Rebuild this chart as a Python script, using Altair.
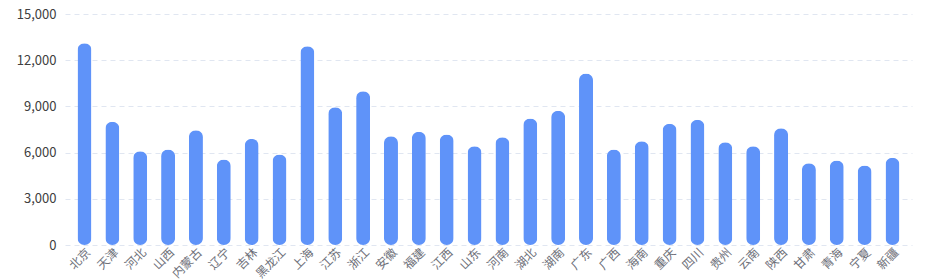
import altair as alt
import pandas as pd

provinces = ["北京", "天津", "河北", "山西", "内蒙古", "辽宁", "吉林", "黑龙江", "上海",
             "江苏", "浙江", "安徽", "福建", "江西", "山东", "河南", "湖北", "湖南", "广东",
             "广西", "海南", "重庆", "四川", "贵州", "云南", "陕西", "甘肃", "青海", "宁夏", "新疆"]
values = [13100, 8000, 6090, 6200, 7450, 5550, 6890, 5880, 12900,
          8940, 9980, 7060, 7350, 7170, 6410, 7000, 8210, 8710, 11130,
          6200, 6740, 7870, 8130, 6670, 6410, 7580, 5310, 5490, 5160, 5660]

df = pd.DataFrame({"province": provinces, "value": values})

chart = alt.Chart(df).mark_bar(
    size=14, cornerRadius=7, color="#5F93F9"
).encode(
    x=alt.X("province:N", sort=provinces, title=None,
            scale=alt.Scale(paddingOuter=0.25),
            axis=alt.Axis(labelAngle=-45, labelFont="Noto Sans CJK SC", labelFontSize=12,
                          labelColor="#6E7079", ticks=False, domain=False, labelPadding=5,
                          labelAlign="right", labelBaseline="middle", labelOffset=4)),
    y=alt.Y("value:Q", title=None,
            scale=alt.Scale(domain=[0, 15000], nice=False),
            axis=alt.Axis(values=[0, 3000, 6000, 9000, 12000, 15000], format=",d",
                          labelFont="Noto Sans CJK SC", labelFontSize=13, labelColor="#404040",
                          ticks=False, domain=False, labelPadding=9,
                          gridColor="#E0E6F1", gridDash=[5, 4], gridWidth=1)),
).properties(
    width=847, height=231,
    autosize=alt.AutoSizeParams(type="none"),
    padding={"left": 65, "top": 14, "right": 18, "bottom": 35},
).configure_view(stroke=None)

chart.save("out.html", embed_options={"renderer": "svg", "actions": False})
